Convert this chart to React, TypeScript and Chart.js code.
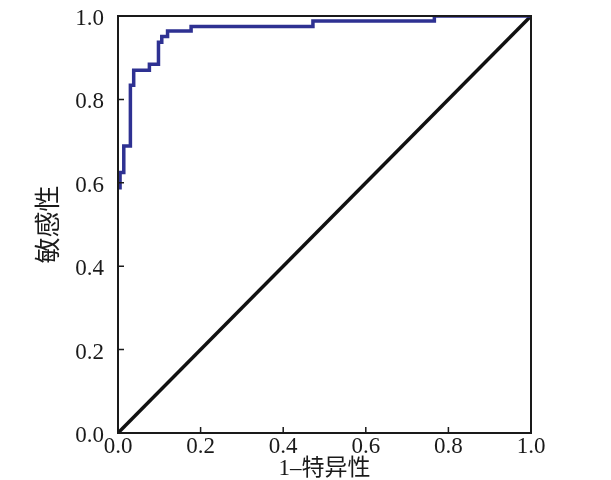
import React, { useEffect, useRef } from "react";
import { Chart, registerables } from "chart.js";

Chart.register(...registerables);

// ROC staircase vertices (1 - specificity, sensitivity)
const rocFpr = [0.005, 0.005, 0.014, 0.014, 0.030, 0.030, 0.038, 0.038, 0.076, 0.076, 0.098, 0.098, 0.106, 0.106, 0.120, 0.120, 0.177, 0.177, 0.472, 0.472, 0.766, 0.766, 1.0];
const rocTpr = [0.584, 0.625, 0.625, 0.688, 0.688, 0.834, 0.834, 0.870, 0.870, 0.884, 0.884, 0.937, 0.937, 0.951, 0.951, 0.964, 0.964, 0.975, 0.975, 0.988, 0.988, 1.0, 1.0];
// reference diagonal
const diagX = [0, 1];
const diagY = [0, 1];
const tickValues = [0, 0.2, 0.4, 0.6, 0.8, 1.0];
const xTitle = "1\u2013特异性";
const yTitle = "敏感性";

const serif = "'Liberation Serif', 'DejaVu Serif', serif";
const cjk = "'Liberation Serif', 'Noto Sans CJK SC', serif";

const framePlugin = {
  id: "frame",
  afterDraw(chart: any) {
    const { ctx, chartArea } = chart;
    const xs = chart.scales.x;
    const ys = chart.scales.y;
    ctx.save();
    ctx.strokeStyle = "#1a1a1a";
    ctx.lineWidth = 2;
    ctx.strokeRect(chartArea.left, chartArea.top, chartArea.right - chartArea.left, chartArea.bottom - chartArea.top);
    ctx.lineWidth = 1.5;
    ctx.beginPath();
    tickValues.forEach((v) => {
      const px = xs.getPixelForValue(v);
      ctx.moveTo(px, chartArea.bottom);
      ctx.lineTo(px, chartArea.bottom - 6);
      const py = ys.getPixelForValue(v);
      ctx.moveTo(chartArea.left, py);
      ctx.lineTo(chartArea.left + 6, py);
    });
    ctx.stroke();
    ctx.restore();
  },
};

export default function App() {
  const ref = useRef<HTMLCanvasElement>(null);
  useEffect(() => {
    document.body.style.margin = "0";
    document.body.style.overflow = "hidden";
    const rocData = rocFpr.map((x, i) => ({ x, y: rocTpr[i] }));
    const diagData = diagX.map((x, i) => ({ x, y: diagY[i] }));
    const chart = new Chart(ref.current!, {
      type: "line",
      data: {
        datasets: [
          {
            data: rocData,
            borderColor: "#2e3192",
            borderWidth: 3.5,
            pointRadius: 0,
            fill: false,
            tension: 0,
          },
          {
            data: diagData,
            borderColor: "#111111",
            borderWidth: 3.5,
            pointRadius: 0,
            fill: false,
            tension: 0,
          },
        ],
      },
      options: {
        animation: false,
        responsive: false,
        events: [],
        layout: { padding: { left: 0, top: 16, right: 80, bottom: 0 } },
        plugins: { legend: { display: false }, tooltip: { enabled: false } },
        scales: {
          x: {
            type: "linear",
            min: 0,
            max: 1,
            afterFit: (s: any) => { s.height = 47; s.paddingLeft = 0; s.paddingRight = 0; },
            afterBuildTicks: (s: any) => { s.ticks = tickValues.map((v) => ({ value: v })); },
            grid: { display: false, drawTicks: false },
            border: { display: false },
            ticks: {
              color: "#1a1a1a",
              font: { family: serif, size: 23 },
              padding: 0,
              maxRotation: 0,
              callback: (v: any) => Number(v).toFixed(1),
            },
            title: {
              display: true,
              text: xTitle,
              color: "#1a1a1a",
              font: { family: cjk, size: 23 },
              padding: { top: 0, bottom: -3 },
            },
          },
          y: {
            type: "linear",
            min: 0,
            max: 1,
            afterFit: (s: any) => { s.width = 118; s.paddingTop = 0; s.paddingBottom = 0; },
            afterBuildTicks: (s: any) => { s.ticks = tickValues.map((v) => ({ value: v })); },
            grid: { display: false, drawTicks: false },
            border: { display: false },
            ticks: {
              color: "#1a1a1a",
              font: { family: serif, size: 23 },
              padding: 14,
              labelOffset: 3,
              callback: (v: any) => Number(v).toFixed(1),
            },
            title: {
              display: true,
              text: yTitle,
              color: "#1a1a1a",
              font: { family: cjk, size: 26 },
              padding: { top: 35, bottom: 0 },
            },
          },
        },
      },
      plugins: [framePlugin],
    });
    return () => chart.destroy();
  }, []);
  return <canvas ref={ref} width={611} height={480} style={{ display: "block" }} />;
}
